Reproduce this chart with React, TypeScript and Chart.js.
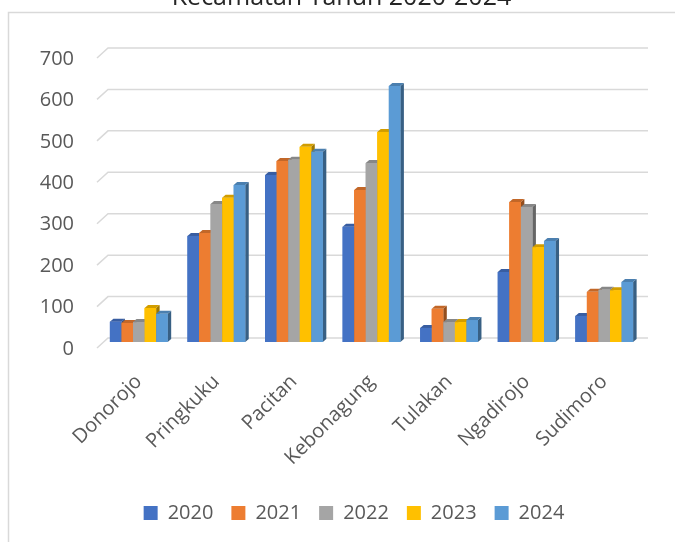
import { useEffect, useRef } from "react";
import { Chart, registerables } from "chart.js";

Chart.register(...registerables);

const categories = ["Donorojo", "Pringkuku", "Pacitan", "Kebonagung", "Tulakan", "Ngadirojo", "Sudimoro"];
const seriesLabels = ["2020", "2021", "2022", "2023", "2024"];
const values2020 = [49, 256, 403, 278, 34, 169, 63];
const values2021 = [46, 263, 437, 367, 80, 338, 121];
const values2022 = [48, 333, 440, 432, 48, 326, 126];
const values2023 = [82, 348, 471, 507, 48, 229, 125];
const values2024 = [68, 379, 459, 618, 53, 244, 145];
const yTicks = [0, 100, 200, 300, 400, 500, 600, 700];
const colors = ["#4472C4", "#ED7D31", "#A5A5A5", "#FFC000", "#5B9BD5"];
const titleText = "Kecamatan Tahun 2020-2024";

const OFF = 20;
const FONT = "'Open Sans', 'Noto Sans', sans-serif";
const TEXT = "#595959";

function shade(hex: string, f: number): string {
  const n = parseInt(hex.slice(1), 16);
  const r = Math.round(((n >> 16) & 255) * f);
  const g = Math.round(((n >> 8) & 255) * f);
  const b = Math.round((n & 255) * f);
  return `rgb(${r},${g},${b})`;
}

const DX = 3.5;
const DY = 3;

const bar3d = {
  id: "bar3d",
  beforeDraw(chart: any) {
    const ctx = chart.ctx;
    ctx.save();
    ctx.strokeStyle = "#d9d9d9";
    ctx.lineWidth = 1.5;
    ctx.beginPath();
    ctx.moveTo(8.5, chart.height);
    ctx.lineTo(8.5, 12.5 + OFF);
    ctx.lineTo(chart.width, 12.5 + OFF);
    ctx.stroke();
    // chart title (partly above the visible page, as in the reference)
    ctx.fillStyle = "#262626";
    ctx.font = `25px ${FONT}`;
    ctx.textAlign = "center";
    ctx.textBaseline = "alphabetic";
    ctx.fillText(titleText, 341.5, 5 + OFF);
    ctx.restore();
  },
  beforeDatasetsDraw(chart: any) {
    const ctx = chart.ctx;
    const y = chart.scales.y;
    const area = chart.chartArea;
    ctx.save();
    ctx.strokeStyle = "#d9d9d9";
    ctx.lineWidth = 1.5;
    yTicks.forEach((v) => {
      const py = y.getPixelForValue(v);
      ctx.beginPath();
      ctx.moveTo(area.left - 3, py + 6);
      ctx.lineTo(area.left + 8, py - 4);
      ctx.lineTo(area.right + 5, py - 4);
      ctx.stroke();
    });
    ctx.restore();
  },
  afterDatasetsDraw(chart: any) {
    const ctx = chart.ctx;
    const metas = chart.data.datasets.map((_: any, i: number) => chart.getDatasetMeta(i));
    ctx.save();
    for (let c = 0; c < categories.length; c++) {
      metas.forEach((meta: any, i: number) => {
        const el = meta.data[c];
        if (!el) return;
        const { x, y, base, width } = el.getProps(["x", "y", "base", "width"], true);
        const l = x - width / 2;
        const r = x + width / 2;
        const col = colors[i];
        ctx.fillStyle = shade(col, 0.62);
        ctx.beginPath();
        ctx.moveTo(r, y);
        ctx.lineTo(r + DX, y - DY);
        ctx.lineTo(r + DX, base - DY);
        ctx.lineTo(r, base);
        ctx.closePath();
        ctx.fill();
        ctx.fillStyle = shade(col, 0.82);
        ctx.beginPath();
        ctx.moveTo(l, y);
        ctx.lineTo(l + DX, y - DY);
        ctx.lineTo(r + DX, y - DY);
        ctx.lineTo(r, y);
        ctx.closePath();
        ctx.fill();
        ctx.fillStyle = col;
        ctx.fillRect(l, y, width, base - y);
      });
    }
    ctx.restore();
  },
};

export default function App() {
  const ref = useRef<HTMLCanvasElement | null>(null);
  useEffect(() => {
    if (!ref.current) return;
    const seriesValues = [values2020, values2021, values2022, values2023, values2024];
    const chart = new Chart(ref.current, {
      type: "bar",
      data: {
        labels: categories,
        datasets: seriesLabels.map((label, i) => ({
          label,
          data: seriesValues[i],
          backgroundColor: colors[i],
          borderWidth: 0,
          categoryPercentage: 0.745,
          barPercentage: 1,
        })),
      },
      options: {
        animation: false,
        responsive: true,
        maintainAspectRatio: false,
        layout: { padding: { left: 33, right: 0, top: 72, bottom: 9 } },
        plugins: {
          title: { display: false },
          legend: {
            position: "bottom",
            labels: {
              boxWidth: 14,
              boxHeight: 14,
              padding: 18,
              color: TEXT,
              font: { family: FONT, size: 20 },
            },
          },
          tooltip: { enabled: false },
        },
        scales: {
          x: {
            grid: { display: false, drawTicks: false },
            border: { display: false },
            ticks: {
              autoSkip: false,
              maxRotation: 45,
              minRotation: 45,
              padding: 28,
              color: TEXT,
              font: { family: FONT, size: 20 },
            },
            afterFit: (s: any) => {
              s.height = 143;
            },
          },
          y: {
            min: 0,
            max: 700,
            grid: { display: false, drawTicks: false },
            border: { display: false },
            ticks: {
              padding: 26,
              labelOffset: 7,
              color: TEXT,
              font: { family: FONT, size: 20 },
            },
            afterBuildTicks: (s: any) => {
              s.ticks = yTicks.map((v) => ({ value: v }));
            },
            afterFit: (s: any) => {
              s.width = 67;
            },
          },
          yRight: {
            type: "linear",
            position: "right",
            display: true,
            grid: { display: false, drawTicks: false },
            border: { display: false },
            ticks: { display: false },
            afterFit: (s: any) => {
              s.width = 32;
            },
          },
        },
      },
      plugins: [bar3d],
    } as any);
    return () => chart.destroy();
  }, []);
  return (
    <div style={{ position: "absolute", left: 0, top: -OFF, width: 675, height: 542 + OFF }}>
      <canvas ref={ref} />
    </div>
  );
}
